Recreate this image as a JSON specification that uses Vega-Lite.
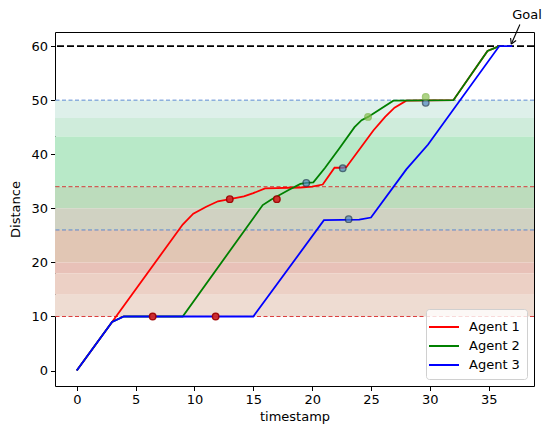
{
  "$schema": "https://vega.github.io/schema/vega-lite/v6.json",
  "width": 479,
  "height": 354,
  "autosize": {"type": "none"},
  "padding": {"left": 55, "top": 32, "right": 9, "bottom": 42},
  "background": "white",
  "config": {
    "font": "DejaVu Sans",
    "view": {"stroke": "black", "strokeWidth": 1},
    "axis": {
      "grid": false, "domain": false, "tickColor": "black", "tickSize": 4.5, "tickWidth": 1,
      "labelFontSize": 13, "labelColor": "black", "labelPadding": 3,
      "titleFontSize": 13, "titleFontWeight": "normal", "titleColor": "black",
      "labelFont": "DejaVu Sans", "titleFont": "DejaVu Sans"
    },
    "legend": {
      "labelFont": "DejaVu Sans", "labelFontSize": 13, "labelColor": "black"
    }
  },
  "datasets": {
    "lines": [
      {"agent": "Agent 1", "t": 0, "d": 0}, {"agent": "Agent 1", "t": 3, "d": 9}, {"agent": "Agent 1", "t": 9, "d": 27},
      {"agent": "Agent 1", "t": 9.9, "d": 29}, {"agent": "Agent 1", "t": 11, "d": 30.3}, {"agent": "Agent 1", "t": 12, "d": 31.3},
      {"agent": "Agent 1", "t": 13, "d": 31.7}, {"agent": "Agent 1", "t": 14.2, "d": 32.2}, {"agent": "Agent 1", "t": 15, "d": 32.8},
      {"agent": "Agent 1", "t": 16, "d": 33.7}, {"agent": "Agent 1", "t": 17, "d": 33.75}, {"agent": "Agent 1", "t": 18, "d": 33.8},
      {"agent": "Agent 1", "t": 19, "d": 33.85}, {"agent": "Agent 1", "t": 20, "d": 34.0}, {"agent": "Agent 1", "t": 20.9, "d": 34.4},
      {"agent": "Agent 1", "t": 21.9, "d": 37.5}, {"agent": "Agent 1", "t": 22.6, "d": 37.5}, {"agent": "Agent 1", "t": 22.9, "d": 37.6},
      {"agent": "Agent 1", "t": 25.2, "d": 44.4}, {"agent": "Agent 1", "t": 26.2, "d": 46.9}, {"agent": "Agent 1", "t": 27, "d": 48.6},
      {"agent": "Agent 1", "t": 28, "d": 49.9}, {"agent": "Agent 1", "t": 32, "d": 50}, {"agent": "Agent 1", "t": 34.9, "d": 59.1},
      {"agent": "Agent 1", "t": 35.9, "d": 60},
      {"agent": "Agent 2", "t": 0, "d": 0}, {"agent": "Agent 2", "t": 3, "d": 9}, {"agent": "Agent 2", "t": 4, "d": 10},
      {"agent": "Agent 2", "t": 9, "d": 10}, {"agent": "Agent 2", "t": 15.8, "d": 30.6}, {"agent": "Agent 2", "t": 16.5, "d": 31.6},
      {"agent": "Agent 2", "t": 17, "d": 32.2}, {"agent": "Agent 2", "t": 18, "d": 33.4}, {"agent": "Agent 2", "t": 19, "d": 34.5},
      {"agent": "Agent 2", "t": 19.5, "d": 34.7}, {"agent": "Agent 2", "t": 20.1, "d": 34.8}, {"agent": "Agent 2", "t": 21.1, "d": 37.5},
      {"agent": "Agent 2", "t": 22.35, "d": 41.2}, {"agent": "Agent 2", "t": 23.6, "d": 45.0}, {"agent": "Agent 2", "t": 24.2, "d": 46.3},
      {"agent": "Agent 2", "t": 24.75, "d": 46.9}, {"agent": "Agent 2", "t": 26.9, "d": 49.9}, {"agent": "Agent 2", "t": 32, "d": 50},
      {"agent": "Agent 2", "t": 34.9, "d": 59.1}, {"agent": "Agent 2", "t": 35.9, "d": 60},
      {"agent": "Agent 3", "t": 0, "d": 0}, {"agent": "Agent 3", "t": 3, "d": 9}, {"agent": "Agent 3", "t": 4, "d": 10},
      {"agent": "Agent 3", "t": 15, "d": 10}, {"agent": "Agent 3", "t": 21, "d": 27.8}, {"agent": "Agent 3", "t": 24, "d": 27.9},
      {"agent": "Agent 3", "t": 25, "d": 28.3}, {"agent": "Agent 3", "t": 28, "d": 37.2}, {"agent": "Agent 3", "t": 29.85, "d": 41.8},
      {"agent": "Agent 3", "t": 35.9, "d": 60}, {"agent": "Agent 3", "t": 37, "d": 60}
    ],
    "markers": [
      {"kind": "red", "t": 6.45, "d": 10}, {"kind": "red", "t": 11.8, "d": 10},
      {"kind": "red", "t": 13, "d": 31.7}, {"kind": "red", "t": 17, "d": 31.7},
      {"kind": "blue", "t": 19.5, "d": 34.7}, {"kind": "blue", "t": 22.6, "d": 37.4},
      {"kind": "blue", "t": 23.1, "d": 28}, {"kind": "blue", "t": 29.65, "d": 49.5},
      {"kind": "green", "t": 24.75, "d": 46.9}, {"kind": "green", "t": 29.65, "d": 50.6}
    ],
    "bands": [
      {"band": "g3", "lo": 46.7, "hi": 50}, {"band": "g2", "lo": 43.3, "hi": 46.7},
      {"band": "g1", "lo": 34, "hi": 43.3}, {"band": "m2", "lo": 30, "hi": 34},
      {"band": "m1", "lo": 26, "hi": 30}, {"band": "r4", "lo": 20, "hi": 26},
      {"band": "r3", "lo": 18, "hi": 20}, {"band": "r2", "lo": 14, "hi": 18},
      {"band": "r1", "lo": 10, "hi": 14}
    ],
    "thresholds": [
      {"kind": "goal", "d": 60}, {"kind": "blue", "d": 50}, {"kind": "blue", "d": 26},
      {"kind": "red", "d": 34}, {"kind": "red", "d": 10}
    ],
    "arrow": [
      {"t": 37.65, "d": 64.0, "t2": 36.92, "d2": 60.37},
      {"t": 37.33, "d": 61.03, "t2": 36.92, "d2": 60.37},
      {"t": 36.86, "d": 61.48, "t2": 36.92, "d2": 60.37}
    ],
    "note": [{"t": 38.25, "d": 65.8, "label": "Goal"}]
  },
  "layer": [
    {
      "data": {"name": "bands"},
      "mark": {"type": "rect"},
      "encoding": {
        "y": {"field": "lo", "type": "quantitative", "scale": {"domain": [-2.85, 62.6], "nice": false, "zero": false},
              "axis": {"title": "Distance", "values": [0, 10, 20, 30, 40, 50, 60], "titlePadding": 8}},
        "y2": {"field": "hi"},
        "fill": {"field": "band", "type": "nominal", "legend": null,
                 "scale": {"domain": ["g3", "g2", "g1", "m2", "m1", "r4", "r3", "r2", "r1"],
                           "range": ["#def0ea", "#cfecdb", "#b8e9c8", "#bcdcbc", "#d0d2c2", "#e1c6b4", "#e8c1b8", "#ecd0c5", "#eedcd2"]}}
      }
    },
    {
      "data": {"name": "thresholds"},
      "transform": [{"filter": "datum.kind === 'blue'"}],
      "mark": {"type": "rule", "color": "#4f7fd0", "strokeWidth": 1, "strokeDash": [4, 2.5], "opacity": 0.9},
      "encoding": {
        "y": {"field": "d", "type": "quantitative", "scale": {"domain": [-2.85, 62.6], "nice": false, "zero": false},
              "axis": {"title": "Distance", "values": [0, 10, 20, 30, 40, 50, 60], "titlePadding": 8}}
      }
    },
    {
      "data": {"name": "thresholds"},
      "transform": [{"filter": "datum.kind === 'red'"}],
      "mark": {"type": "rule", "color": "#d62020", "strokeWidth": 1, "strokeDash": [4, 2.5], "opacity": 0.85},
      "encoding": {
        "y": {"field": "d", "type": "quantitative", "scale": {"domain": [-2.85, 62.6], "nice": false, "zero": false},
              "axis": {"title": "Distance", "values": [0, 10, 20, 30, 40, 50, 60], "titlePadding": 8}}
      }
    },
    {
      "data": {"name": "thresholds"},
      "transform": [{"filter": "datum.kind === 'goal'"}],
      "mark": {"type": "rule", "color": "black", "strokeWidth": 1.8, "strokeDash": [7, 3]},
      "encoding": {
        "y": {"field": "d", "type": "quantitative", "scale": {"domain": [-2.85, 62.6], "nice": false, "zero": false},
              "axis": {"title": "Distance", "values": [0, 10, 20, 30, 40, 50, 60], "titlePadding": 8}}
      }
    },
    {
      "data": {"name": "lines"},
      "mark": {"type": "line", "strokeWidth": 1.8},
      "encoding": {
        "x": {"field": "t", "type": "quantitative", "scale": {"domain": [-1.85, 38.85], "nice": false, "zero": false},
              "axis": {"title": "timestamp", "values": [0, 5, 10, 15, 20, 25, 30, 35], "titlePadding": 4}},
        "y": {"field": "d", "type": "quantitative", "scale": {"domain": [-2.85, 62.6], "nice": false, "zero": false},
              "axis": {"title": "Distance", "values": [0, 10, 20, 30, 40, 50, 60], "titlePadding": 8}},
        "color": {"field": "agent", "type": "nominal",
                  "scale": {"domain": ["Agent 1", "Agent 2", "Agent 3"], "range": ["#ff0000", "#008000", "#0000ff"]},
                  "legend": {"title": null, "orient": "bottom-right", "offset": 7, "symbolType": "M-1.5,0H1.5",
                             "symbolSize": 400, "symbolStrokeWidth": 2, "labelOffset": 14, "rowPadding": 1,
                             "padding": 7, "strokeColor": "#d0d0d0", "fillColor": "rgba(255,255,255,0.8)", "cornerRadius": 3}}
      }
    },
    {
      "data": {"name": "markers"},
      "transform": [{"filter": "datum.kind === 'red'"}],
      "mark": {"type": "point", "filled": true, "fill": "#d02a2a", "stroke": "#a00000", "strokeWidth": 1.4, "size": 42, "opacity": 0.95},
      "encoding": {
        "x": {"field": "t", "type": "quantitative", "scale": {"domain": [-1.85, 38.85], "nice": false, "zero": false},
              "axis": {"title": "timestamp", "values": [0, 5, 10, 15, 20, 25, 30, 35], "titlePadding": 4}},
        "y": {"field": "d", "type": "quantitative", "scale": {"domain": [-2.85, 62.6], "nice": false, "zero": false},
              "axis": {"title": "Distance", "values": [0, 10, 20, 30, 40, 50, 60], "titlePadding": 8}}
      }
    },
    {
      "data": {"name": "markers"},
      "transform": [{"filter": "datum.kind === 'blue'"}],
      "mark": {"type": "point", "filled": true, "fill": "#4f86c0", "stroke": "#1c3552", "strokeWidth": 1.4, "size": 42},
      "encoding": {
        "x": {"field": "t", "type": "quantitative", "scale": {"domain": [-1.85, 38.85], "nice": false, "zero": false},
              "axis": {"title": "timestamp", "values": [0, 5, 10, 15, 20, 25, 30, 35], "titlePadding": 4}},
        "y": {"field": "d", "type": "quantitative", "scale": {"domain": [-2.85, 62.6], "nice": false, "zero": false},
              "axis": {"title": "Distance", "values": [0, 10, 20, 30, 40, 50, 60], "titlePadding": 8}}
      }
    },
    {
      "data": {"name": "markers"},
      "transform": [{"filter": "datum.kind === 'green'"}],
      "mark": {"type": "point", "filled": true, "fill": "#8cc152", "stroke": "#7ab443", "strokeWidth": 1.4, "size": 42},
      "encoding": {
        "x": {"field": "t", "type": "quantitative", "scale": {"domain": [-1.85, 38.85], "nice": false, "zero": false},
              "axis": {"title": "timestamp", "values": [0, 5, 10, 15, 20, 25, 30, 35], "titlePadding": 4}},
        "y": {"field": "d", "type": "quantitative", "scale": {"domain": [-2.85, 62.6], "nice": false, "zero": false},
              "axis": {"title": "Distance", "values": [0, 10, 20, 30, 40, 50, 60], "titlePadding": 8}}
      }
    },
    {
      "data": {"name": "arrow"},
      "mark": {"type": "rule", "color": "black", "strokeWidth": 1.1},
      "encoding": {
        "x": {"field": "t", "type": "quantitative", "scale": {"domain": [-1.85, 38.85], "nice": false, "zero": false},
              "axis": {"title": "timestamp", "values": [0, 5, 10, 15, 20, 25, 30, 35], "titlePadding": 4}},
        "y": {"field": "d", "type": "quantitative", "scale": {"domain": [-2.85, 62.6], "nice": false, "zero": false},
              "axis": {"title": "Distance", "values": [0, 10, 20, 30, 40, 50, 60], "titlePadding": 8}},
        "x2": {"field": "t2"},
        "y2": {"field": "d2"}
      }
    },
    {
      "data": {"name": "note"},
      "mark": {"type": "text", "fontSize": 13, "color": "black", "align": "center", "baseline": "middle"},
      "encoding": {
        "x": {"field": "t", "type": "quantitative", "scale": {"domain": [-1.85, 38.85], "nice": false, "zero": false},
              "axis": {"title": "timestamp", "values": [0, 5, 10, 15, 20, 25, 30, 35], "titlePadding": 4}},
        "y": {"field": "d", "type": "quantitative", "scale": {"domain": [-2.85, 62.6], "nice": false, "zero": false},
              "axis": {"title": "Distance", "values": [0, 10, 20, 30, 40, 50, 60], "titlePadding": 8}},
        "text": {"field": "label"}
      }
    }
  ]
}
